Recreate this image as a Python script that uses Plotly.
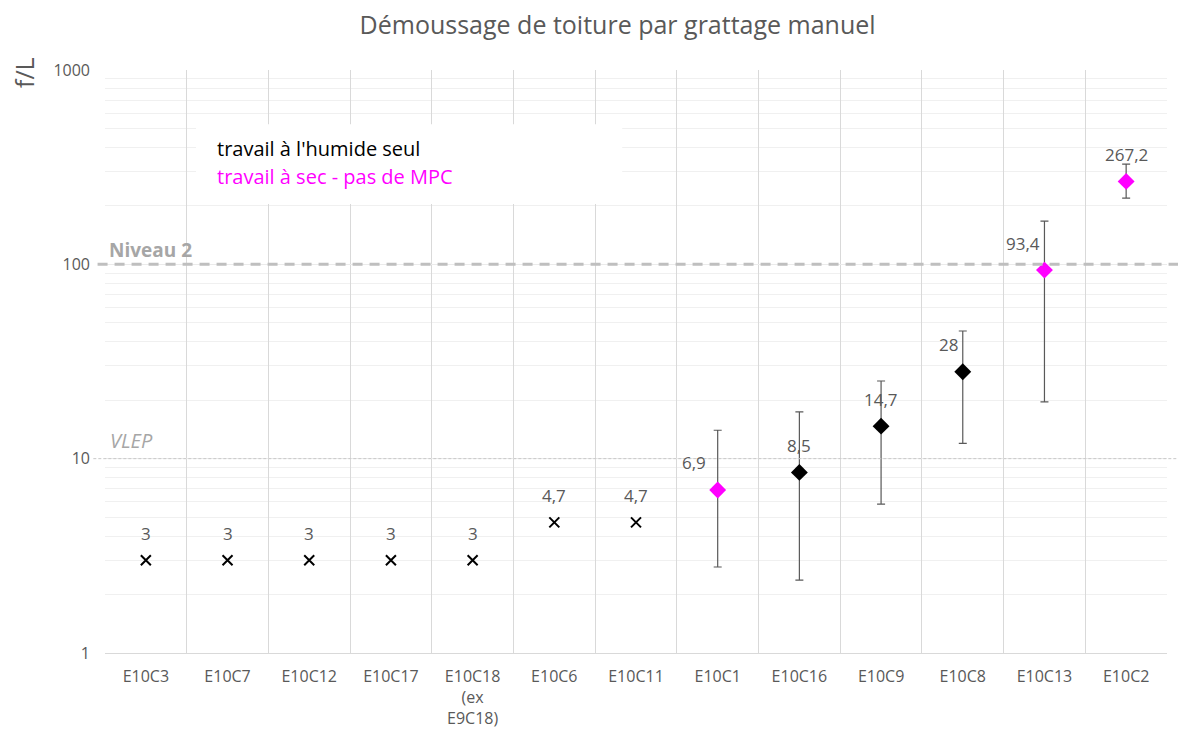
import plotly.graph_objects as go
import math

categories = ["E10C3", "E10C7", "E10C12", "E10C17", "E10C18<br>(ex<br>E9C18)", "E10C6",
              "E10C11", "E10C1", "E10C16", "E10C9", "E10C8", "E10C13", "E10C2"]
values = [3, 3, 3, 3, 3, 4.7, 4.7, 6.9, 8.5, 14.7, 28, 93.4, 267.2]
labels = ["3", "3", "3", "3", "3", "4,7", "4,7", "6,9", "8,5", "14,7", "28", "93,4", "267,2"]
upper = [None, None, None, None, None, None, None, 14.0, 17.4, 25.1, 45.4, 167, 328]
lower = [None, None, None, None, None, None, None, 2.77, 2.37, 5.84, 12.0, 19.6, 219]
# group: 0 = below detection (cross), 1 = wet work (black), 2 = dry work (magenta)
group = [0, 0, 0, 0, 0, 0, 0, 2, 1, 1, 1, 2, 2]
label_xshift = [0, 0, 0, 0, 0, 0, 0, -24, 0, 0, -14, -21, 0]

niveau2 = 100
vlep = 10

GRAY_TXT = "#595959"
FONT = "Open Sans"

fig = go.Figure()

def subset(g):
    return [i for i, gg in enumerate(group) if gg == g]

# crosses
idx = subset(0)
fig.add_trace(go.Scatter(
    x=[categories[i] for i in idx], y=[values[i] for i in idx], mode="markers",
    marker=dict(symbol="x-thin", size=10, color="#000000", line=dict(width=2, color="#000000")),
    showlegend=False, hoverinfo="skip"))

for g, col in [(1, "#000000"), (2, "#ff00ff")]:
    idx = subset(g)
    fig.add_trace(go.Scatter(
        x=[categories[i] for i in idx], y=[values[i] for i in idx], mode="markers",
        marker=dict(symbol="diamond", size=13, color=col),
        error_y=dict(type="data", symmetric=False,
                     array=[upper[i] - values[i] for i in idx],
                     arrayminus=[values[i] - lower[i] for i in idx],
                     color="#595959", thickness=1.2, width=4),
        showlegend=False, hoverinfo="skip"))

# value labels
for i, c in enumerate(categories):
    fig.add_annotation(x=c, y=math.log10(values[i]), text=labels[i], showarrow=False,
                       yshift=27, xshift=label_xshift[i],
                       font=dict(family=FONT, size=17, color=GRAY_TXT))

# reference lines
fig.add_shape(type="line", xref="paper", yref="paper", x0=-0.007, x1=1.03,
              y0=math.log10(niveau2) / 3, y1=math.log10(niveau2) / 3,
              line=dict(color="#bfbfbf", width=3, dash="10px,7px"), layer="above")
fig.add_shape(type="line", xref="paper", yref="paper", x0=-0.011, x1=1.03,
              y0=math.log10(vlep) / 3, y1=math.log10(vlep) / 3,
              line=dict(color="#c8c8c8", width=1, dash="3px,2px"), layer="above")
fig.add_annotation(xref="paper", yref="paper", x=0.002, y=math.log10(niveau2) / 3,
                   yshift=14, xanchor="left", yanchor="middle", showarrow=False,
                   text="<b>Niveau 2</b>", font=dict(family=FONT, size=19, color="#a6a6a6"))
fig.add_annotation(xref="paper", yref="paper", x=0.003, y=math.log10(vlep) / 3,
                   yshift=18, xanchor="left", yanchor="middle", showarrow=False,
                   text="<i>VLEP</i>", font=dict(family=FONT, size=20, color="#a6a6a6"))

# legend box
fig.add_shape(type="rect", xref="paper", yref="paper", x0=0.0857, x1=0.487, y0=0.770, y1=0.907,
              fillcolor="white", line=dict(width=0), layer="above")
fig.add_annotation(xref="paper", yref="paper", x=0.1036, y=0.866, xanchor="left", yanchor="middle",
                   showarrow=False, text="travail à l'humide seul",
                   font=dict(family=FONT, size=20, color="#000000"))
fig.add_annotation(xref="paper", yref="paper", x=0.1036, y=0.8165, xanchor="left", yanchor="middle",
                   showarrow=False, text="travail à sec - pas de MPC",
                   font=dict(family=FONT, size=20, color="#ff00ff"))

# y title
fig.add_annotation(xref="paper", yref="paper", x=0, xshift=-81, y=1, yshift=-3, textangle=-90,
                   xanchor="center", yanchor="middle", showarrow=False, text="f/L",
                   font=dict(family=FONT, size=25, color=GRAY_TXT))

minor_vals = [m * 10 ** d for d in range(3) for m in range(2, 10)]

fig.update_layout(
    width=1186, height=736,
    margin=dict(l=97, r=27, t=62, b=91),
    paper_bgcolor="white", plot_bgcolor="white",
    font=dict(family=FONT, color=GRAY_TXT),
    title=dict(text="Démoussage de toiture par grattage manuel", x=0.514, xanchor="center",
               xref="container", yref="container", y=1 - 17 / 736, yanchor="middle",
               font=dict(family=FONT, size=25, color=GRAY_TXT)),
    xaxis=dict(type="category", categoryorder="array", categoryarray=categories,
               range=[-0.5, len(categories) - 0.5], tickson="boundaries", ticks="",
               showgrid=True, gridcolor="#d9d9d9", gridwidth=1,
               showline=True, linecolor="#d9d9d9", mirror=False, automargin=False,
               ticklabelstandoff=9,
               tickfont=dict(family=FONT, size=16, color=GRAY_TXT), zeroline=False),
    yaxis=dict(type="log", range=[0, 3], tickvals=[1, 10, 100, 1000],
               ticktext=["1", "10", "100", "1000"], ticks="",
               showgrid=True, gridcolor="#ebebeb", gridwidth=1,
               minor=dict(tickvals=minor_vals, showgrid=True, gridcolor="#f0f0f0", gridwidth=1),
               showline=False, zeroline=False, ticklabelstandoff=14, automargin=False,
               tickfont=dict(family=FONT, size=16, color=GRAY_TXT)),
)

fig.write_html("out.html")
